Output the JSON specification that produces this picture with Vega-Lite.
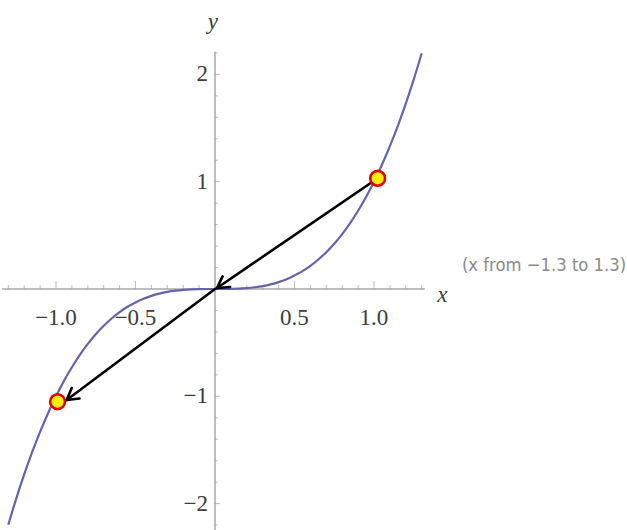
{
  "$schema": "https://vega.github.io/schema/vega-lite/v6.json",
  "width": 627,
  "height": 530,
  "autosize": "none",
  "padding": 0,
  "background": "white",
  "config": {"view": {"stroke": null}},
  "datasets": {
    "curve": [
      {"x": -1.3, "y": -2.197}, {"x": -1.25, "y": -1.953}, {"x": -1.2, "y": -1.728}, {"x": -1.15, "y": -1.521},
      {"x": -1.1, "y": -1.331}, {"x": -1.05, "y": -1.158}, {"x": -1.0, "y": -1.0}, {"x": -0.95, "y": -0.857},
      {"x": -0.9, "y": -0.729}, {"x": -0.85, "y": -0.614}, {"x": -0.8, "y": -0.512}, {"x": -0.75, "y": -0.422},
      {"x": -0.7, "y": -0.343}, {"x": -0.65, "y": -0.275}, {"x": -0.6, "y": -0.216}, {"x": -0.55, "y": -0.166},
      {"x": -0.5, "y": -0.125}, {"x": -0.45, "y": -0.091}, {"x": -0.4, "y": -0.064}, {"x": -0.35, "y": -0.043},
      {"x": -0.3, "y": -0.027}, {"x": -0.25, "y": -0.016}, {"x": -0.2, "y": -0.008}, {"x": -0.15, "y": -0.003},
      {"x": -0.1, "y": -0.001}, {"x": -0.05, "y": 0.0}, {"x": 0.0, "y": 0.0}, {"x": 0.05, "y": 0.0},
      {"x": 0.1, "y": 0.001}, {"x": 0.15, "y": 0.003}, {"x": 0.2, "y": 0.008}, {"x": 0.25, "y": 0.016},
      {"x": 0.3, "y": 0.027}, {"x": 0.35, "y": 0.043}, {"x": 0.4, "y": 0.064}, {"x": 0.45, "y": 0.091},
      {"x": 0.5, "y": 0.125}, {"x": 0.55, "y": 0.166}, {"x": 0.6, "y": 0.216}, {"x": 0.65, "y": 0.275},
      {"x": 0.7, "y": 0.343}, {"x": 0.75, "y": 0.422}, {"x": 0.8, "y": 0.512}, {"x": 0.85, "y": 0.614},
      {"x": 0.9, "y": 0.729}, {"x": 0.95, "y": 0.857}, {"x": 1.0, "y": 1.0}, {"x": 1.05, "y": 1.158},
      {"x": 1.1, "y": 1.331}, {"x": 1.15, "y": 1.521}, {"x": 1.2, "y": 1.728}, {"x": 1.25, "y": 1.953},
      {"x": 1.3, "y": 2.197}
    ],
    "axes": [
      {"x": -1.34, "x2": 1.32, "y": 0, "y2": 0},
      {"x": 0, "x2": 0, "y": -2.25, "y2": 2.21}
    ],
    "xminor": [
      {"x": -1.3}, {"x": -1.2}, {"x": -1.1}, {"x": -0.9}, {"x": -0.8}, {"x": -0.7}, {"x": -0.6},
      {"x": -0.4}, {"x": -0.3}, {"x": -0.2}, {"x": -0.1}, {"x": 0.1}, {"x": 0.2}, {"x": 0.3},
      {"x": 0.4}, {"x": 0.6}, {"x": 0.7}, {"x": 0.8}, {"x": 0.9}, {"x": 1.1}, {"x": 1.2}, {"x": 1.3}
    ],
    "xmajor": [{"x": -1.0}, {"x": -0.5}, {"x": 0.5}, {"x": 1.0}],
    "yminor": [
      {"y": -2.2}, {"y": -1.8}, {"y": -1.6}, {"y": -1.4}, {"y": -1.2}, {"y": -0.8}, {"y": -0.6},
      {"y": -0.4}, {"y": -0.2}, {"y": 0.2}, {"y": 0.4}, {"y": 0.6}, {"y": 0.8}, {"y": 1.2},
      {"y": 1.4}, {"y": 1.6}, {"y": 1.8}, {"y": 2.2}
    ],
    "ymajor": [{"y": -2}, {"y": -1}, {"y": 1}, {"y": 2}],
    "xlabels": [
      {"x": -1.0, "label": "−1.0"}, {"x": -0.5, "label": "−0.5"}, {"x": 0.5, "label": "0.5"}, {"x": 1.0, "label": "1.0"}
    ],
    "ylabels": [
      {"y": 2, "label": "2"}, {"y": 1, "label": "1"}, {"y": -1, "label": "−1"}, {"y": -2, "label": "−2"}
    ],
    "arrows": [
      {"x": 1.023, "y": 1.032, "x2": 0.0126, "y2": 0.0093},
      {"x": 0.0126, "y": 0.0093, "x2": 0.0943, "y2": 0.0186},
      {"x": 0.0126, "y": 0.0093, "x2": 0.0478, "y2": 0.118},
      {"x": 0.0, "y": 0.0, "x2": -0.933, "y2": -1.034},
      {"x": -0.933, "y": -1.034, "x2": -0.852, "y2": -1.02},
      {"x": -0.933, "y": -1.034, "x2": -0.901, "y2": -0.923}
    ],
    "points": [{"x": 1.023, "y": 1.032}, {"x": -0.99, "y": -1.05}]
  },
  "layer": [
    {
      "data": {"name": "axes"},
      "mark": {"type": "rule", "color": "#a9a9a9", "strokeWidth": 1.5},
      "encoding": {
        "x": {"field": "x", "type": "quantitative", "scale": {"domain": [-1.3522, 2.5912], "nice": false, "zero": false}, "axis": null},
        "x2": {"field": "x2"},
        "y": {"field": "y", "type": "quantitative", "scale": {"domain": [-2.2461, 2.6934], "nice": false, "zero": false}, "axis": null},
        "y2": {"field": "y2"}
      }
    },
    {
      "data": {"name": "xminor"},
      "mark": {"type": "tick", "orient": "vertical", "size": 4, "thickness": 1, "yOffset": -2, "color": "#a0a0a0"},
      "encoding": {
        "x": {"field": "x", "type": "quantitative", "scale": {"domain": [-1.3522, 2.5912], "nice": false, "zero": false}, "axis": null},
        "y": {"datum": 0, "type": "quantitative", "scale": {"domain": [-2.2461, 2.6934], "nice": false, "zero": false}, "axis": null}
      }
    },
    {
      "data": {"name": "xmajor"},
      "mark": {"type": "tick", "orient": "vertical", "size": 8, "thickness": 1, "yOffset": -4, "color": "#a0a0a0"},
      "encoding": {
        "x": {"field": "x", "type": "quantitative", "scale": {"domain": [-1.3522, 2.5912], "nice": false, "zero": false}, "axis": null},
        "y": {"datum": 0, "type": "quantitative", "scale": {"domain": [-2.2461, 2.6934], "nice": false, "zero": false}, "axis": null}
      }
    },
    {
      "data": {"name": "yminor"},
      "mark": {"type": "tick", "orient": "horizontal", "size": 3, "thickness": 1, "xOffset": 1.5, "color": "#a0a0a0"},
      "encoding": {
        "x": {"datum": 0, "type": "quantitative", "scale": {"domain": [-1.3522, 2.5912], "nice": false, "zero": false}, "axis": null},
        "y": {"field": "y", "type": "quantitative", "scale": {"domain": [-2.2461, 2.6934], "nice": false, "zero": false}, "axis": null}
      }
    },
    {
      "data": {"name": "ymajor"},
      "mark": {"type": "tick", "orient": "horizontal", "size": 5, "thickness": 1, "xOffset": 2.5, "color": "#a0a0a0"},
      "encoding": {
        "x": {"datum": 0, "type": "quantitative", "scale": {"domain": [-1.3522, 2.5912], "nice": false, "zero": false}, "axis": null},
        "y": {"field": "y", "type": "quantitative", "scale": {"domain": [-2.2461, 2.6934], "nice": false, "zero": false}, "axis": null}
      }
    },
    {
      "data": {"name": "xlabels"},
      "mark": {"type": "text", "font": "Liberation Serif", "fontSize": 23, "color": "#3c3c3c", "align": "center", "baseline": "alphabetic", "dy": 36},
      "encoding": {
        "x": {"field": "x", "type": "quantitative", "scale": {"domain": [-1.3522, 2.5912], "nice": false, "zero": false}, "axis": null},
        "y": {"datum": 0, "type": "quantitative", "scale": {"domain": [-2.2461, 2.6934], "nice": false, "zero": false}, "axis": null},
        "text": {"field": "label"}
      }
    },
    {
      "data": {"name": "ylabels"},
      "mark": {"type": "text", "font": "Liberation Serif", "fontSize": 23, "color": "#3c3c3c", "align": "right", "baseline": "middle", "dx": -7},
      "encoding": {
        "x": {"datum": 0, "type": "quantitative", "scale": {"domain": [-1.3522, 2.5912], "nice": false, "zero": false}, "axis": null},
        "y": {"field": "y", "type": "quantitative", "scale": {"domain": [-2.2461, 2.6934], "nice": false, "zero": false}, "axis": null},
        "text": {"field": "label"}
      }
    },
    {
      "data": {"values": [{"t": "x"}]},
      "mark": {"type": "text", "font": "Liberation Serif", "fontStyle": "italic", "fontSize": 23, "color": "#3c3c3c", "align": "center", "baseline": "alphabetic"},
      "encoding": {
        "x": {"datum": 1.43, "type": "quantitative", "scale": {"domain": [-1.3522, 2.5912], "nice": false, "zero": false}, "axis": null},
        "y": {"datum": -0.12, "type": "quantitative", "scale": {"domain": [-2.2461, 2.6934], "nice": false, "zero": false}, "axis": null},
        "text": {"field": "t"}
      }
    },
    {
      "data": {"values": [{"t": "y"}]},
      "mark": {"type": "text", "font": "Liberation Serif", "fontStyle": "italic", "fontSize": 23, "color": "#3c3c3c", "align": "center", "baseline": "alphabetic"},
      "encoding": {
        "x": {"datum": -0.013, "type": "quantitative", "scale": {"domain": [-1.3522, 2.5912], "nice": false, "zero": false}, "axis": null},
        "y": {"datum": 2.42, "type": "quantitative", "scale": {"domain": [-2.2461, 2.6934], "nice": false, "zero": false}, "axis": null},
        "text": {"field": "t"}
      }
    },
    {
      "data": {"values": [{"t": "(x from −1.3 to 1.3)"}]},
      "mark": {"type": "text", "font": "DejaVu Sans Condensed", "fontSize": 18.3, "color": "#8a8a8a", "align": "left", "baseline": "alphabetic"},
      "encoding": {
        "x": {"datum": 1.553, "type": "quantitative", "scale": {"domain": [-1.3522, 2.5912], "nice": false, "zero": false}, "axis": null},
        "y": {"datum": 0.168, "type": "quantitative", "scale": {"domain": [-2.2461, 2.6934], "nice": false, "zero": false}, "axis": null},
        "text": {"field": "t"}
      }
    },
    {
      "data": {"name": "curve"},
      "mark": {"type": "line", "color": "#6464ae", "strokeWidth": 2.2, "interpolate": "monotone"},
      "encoding": {
        "x": {"field": "x", "type": "quantitative", "scale": {"domain": [-1.3522, 2.5912], "nice": false, "zero": false}, "axis": null},
        "y": {"field": "y", "type": "quantitative", "scale": {"domain": [-2.2461, 2.6934], "nice": false, "zero": false}, "axis": null}
      }
    },
    {
      "data": {"name": "arrows"},
      "mark": {"type": "rule", "color": "black", "strokeWidth": 2.6, "strokeCap": "round"},
      "encoding": {
        "x": {"field": "x", "type": "quantitative", "scale": {"domain": [-1.3522, 2.5912], "nice": false, "zero": false}, "axis": null},
        "x2": {"field": "x2"},
        "y": {"field": "y", "type": "quantitative", "scale": {"domain": [-2.2461, 2.6934], "nice": false, "zero": false}, "axis": null},
        "y2": {"field": "y2"}
      }
    },
    {
      "data": {"name": "points"},
      "mark": {"type": "point", "shape": "circle", "filled": true, "fill": "#ffee00", "stroke": "#e00000", "strokeWidth": 2.6, "size": 220, "opacity": 1},
      "encoding": {
        "x": {"field": "x", "type": "quantitative", "scale": {"domain": [-1.3522, 2.5912], "nice": false, "zero": false}, "axis": null},
        "y": {"field": "y", "type": "quantitative", "scale": {"domain": [-2.2461, 2.6934], "nice": false, "zero": false}, "axis": null}
      }
    }
  ]
}
